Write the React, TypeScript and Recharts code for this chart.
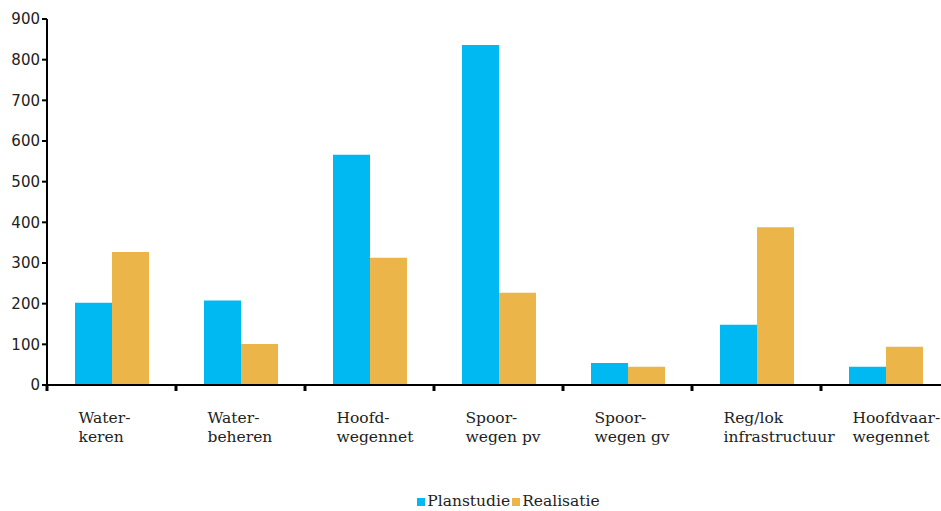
import { BarChart, Bar, XAxis, YAxis, Legend } from 'recharts';

const categories = [
  'Water-|keren',
  'Water-|beheren',
  'Hoofd-|wegennet',
  'Spoor-|wegen pv',
  'Spoor-|wegen gv',
  'Reg/lok|infrastructuur',
  'Hoofdvaar-|wegennet',
];
const planstudie = [202, 208, 566, 836, 54, 148, 45];
const realisatie = [327, 101, 313, 227, 45, 388, 94];
const yTicks = [0, 100, 200, 300, 400, 500, 600, 700, 800, 900];

const BLUE = '#00B9F2';
const GOLD = '#EBB54A';
const CHART_W = 950;
const Y_AXIS_W = 47;
const BAND = (CHART_W - Y_AXIS_W) / categories.length;

const data = categories.map((name, i) => ({
  name,
  Planstudie: planstudie[i],
  Realisatie: realisatie[i],
}));

// label block left-aligned, plus the boundary tick mark on the left of each band
function CategoryTick({ x, y, payload }: any) {
  const lines = String(payload.value).split('|');
  const axisY = y - 8;
  const left = x - BAND / 2;
  return (
    <g>
      <line x1={left} x2={left} y1={axisY} y2={axisY + 6} stroke="#000" strokeWidth={3} />
      <text x={x - 33} y={y + 30} textAnchor="start" fill="#222" fontSize={15.5} fontFamily="'DejaVu Serif', serif">
        {lines.map((l, i) => (
          <tspan key={i} x={x - 33} dy={i === 0 ? 0 : 19}>{l}</tspan>
        ))}
      </text>
    </g>
  );
}

function LegendContent() {
  const items = [
    { label: 'Planstudie', color: BLUE },
    { label: 'Realisatie', color: GOLD },
  ];
  return (
    <div style={{ height: 26, paddingLeft: 78, paddingTop: 7, boxSizing: 'border-box', display: 'flex', justifyContent: 'center', alignItems: 'flex-start', fontFamily: "'DejaVu Serif', serif", fontSize: 15.5, color: '#222', lineHeight: '18px' }}>
      {items.map((it) => (
        <span key={it.label} style={{ display: 'inline-flex', alignItems: 'center', marginRight: 2 }}>
          <span style={{ width: 8, height: 8, background: it.color, display: 'inline-block', marginRight: 2, marginTop: 2 }} />
          {it.label}
        </span>
      ))}
    </div>
  );
}

export default function App() {
  return (
    <div style={{ position: 'absolute', left: 0, top: 0, width: 941, height: 511, overflow: 'hidden', background: '#fff' }}>
      <BarChart width={CHART_W} height={511} data={data} margin={{ top: 19, right: 0, left: 0, bottom: 0 }} barGap={0} barSize={37}>
        <XAxis
          dataKey="name"
          height={100}
          interval={0}
          tick={<CategoryTick />}
          axisLine={{ stroke: '#000', strokeWidth: 2 }}
          tickLine={false}
          tickSize={6}
          tickMargin={2}
        />
        <YAxis
          width={Y_AXIS_W}
          domain={[0, 900]}
          ticks={yTicks}
          interval={0}
          tick={{ fill: '#222', fontSize: 15, fontFamily: "'DejaVu Sans', sans-serif" }}
          axisLine={{ stroke: '#000', strokeWidth: 2 }}
          tickLine={{ stroke: '#000', strokeWidth: 2 }}
          tickSize={5}
        />
        <Legend verticalAlign="bottom" content={<LegendContent />} wrapperStyle={{ left: 0, width: 941 }} />
        <Bar dataKey="Planstudie" fill={BLUE} isAnimationActive={false} />
        <Bar dataKey="Realisatie" fill={GOLD} isAnimationActive={false} />
      </BarChart>
    </div>
  );
}
